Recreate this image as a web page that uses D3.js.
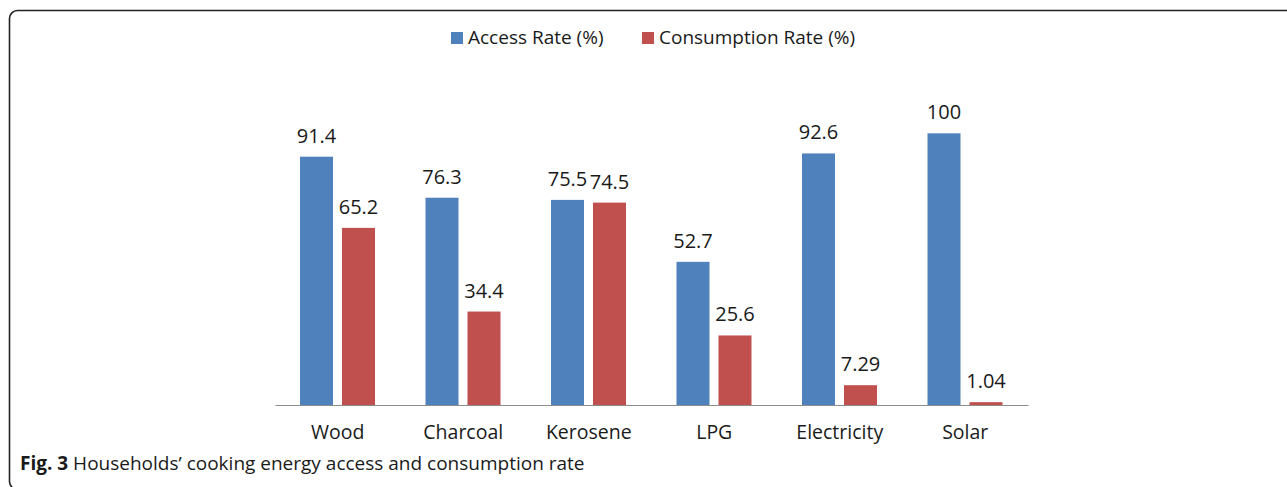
<!DOCTYPE html>
<html>
<head>
<meta charset="utf-8">
<script src="https://cdn.jsdelivr.net/npm/d3@7"></script>
<style>
  html, body { margin: 0; padding: 0; background: #fff; }
  svg { display: block; }
  text { font-family: "Open Sans", "Noto Sans", sans-serif; fill: #1a1a1a; }
</style>
</head>
<body>
<svg id="chart" width="1287" height="487"></svg>
<script>
// Cooking energy sources and the two rates per source
const categories = ["Wood", "Charcoal", "Kerosene", "LPG", "Electricity", "Solar"];
const accessRate = [91.4, 76.3, 75.5, 52.7, 92.6, 100];
const consumptionRate = [65.2, 34.4, 74.5, 25.6, 7.29, 1.04];
const seriesNames = ["Access Rate (%)", "Consumption Rate (%)"];
const seriesColors = ["#4F81BD", "#C0504D"];
const valueLabels = [
  ["91.4", "76.3", "75.5", "52.7", "92.6", "100"],
  ["65.2", "34.4", "74.5", "25.6", "7.29", "1.04"]
];

const svg = d3.select("#chart");
const W = 1287, H = 487;

// Framed panel with rounded corners (right and bottom edges run past the page)
svg.append("rect")
  .attr("x", 9.5).attr("y", 10.5)
  .attr("width", W + 20).attr("height", 479)
  .attr("rx", 8).attr("ry", 8)
  .attr("fill", "none")
  .attr("stroke", "#222")
  .attr("stroke-width", 1.6);

const plot = { left: 275, right: 1028, top: 79, bottom: 405 };

const x0 = d3.scaleBand()
  .domain(categories)
  .range([plot.left, plot.right])
  .paddingInner(0).paddingOuter(0);

const x1 = d3.scaleBand()
  .domain([0, 1])
  .range([25, 100])
  .paddingInner(0.214).paddingOuter(0);

const y = d3.scaleLinear()
  .domain([0, 120])
  .range([plot.bottom, plot.top]);

const series = [accessRate, consumptionRate];

const groups = svg.append("g").selectAll("g")
  .data(categories)
  .join("g")
  .attr("transform", d => `translate(${x0(d)},0)`);

groups.selectAll("rect")
  .data((c, i) => series.map((s, k) => ({ k, v: s[i] })))
  .join("rect")
  .attr("x", d => x1(d.k))
  .attr("width", x1.bandwidth())
  .attr("y", d => y(d.v))
  .attr("height", d => y(0) - y(d.v))
  .attr("fill", d => seriesColors[d.k]);

groups.selectAll("text.val")
  .data((c, i) => series.map((s, k) => ({ k, v: s[i], t: valueLabels[k][i] })))
  .join("text")
  .attr("class", "val")
  .attr("x", d => x1(d.k) + x1.bandwidth() / 2)
  .attr("y", d => y(d.v) - 14)
  .attr("text-anchor", "middle")
  .attr("font-size", 20)
  .text(d => d.t);

// Category axis
const xAxis = svg.append("g")
  .attr("transform", `translate(0,${plot.bottom})`)
  .call(d3.axisBottom(x0).tickSize(0).tickPadding(20));
xAxis.select(".domain").attr("stroke", "#8c8c8c").attr("stroke-width", 1.2);
xAxis.selectAll("text")
  .attr("font-size", 19.5)
  .attr("font-family", "'Open Sans', 'Noto Sans', sans-serif")
  .attr("fill", "#1a1a1a");

// Legend
const legendItems = [
  { name: seriesNames[0], color: seriesColors[0], x: 451 },
  { name: seriesNames[1], color: seriesColors[1], x: 642 }
];
const legend = svg.append("g").selectAll("g")
  .data(legendItems)
  .join("g")
  .attr("transform", d => `translate(${d.x},32)`);
legend.append("rect")
  .attr("width", 12).attr("height", 12)
  .attr("fill", d => d.color);
legend.append("text")
  .attr("x", 17).attr("y", 12)
  .attr("font-size", 19)
  .text(d => d.name);

// Caption
const cap = svg.append("text")
  .attr("x", 20).attr("y", 470)
  .attr("font-size", 19);
cap.append("tspan").attr("font-weight", "bold").text("Fig. 3");
cap.append("tspan").text(" Households\u2019 cooking energy access and consumption rate");
</script>
</body>
</html>
